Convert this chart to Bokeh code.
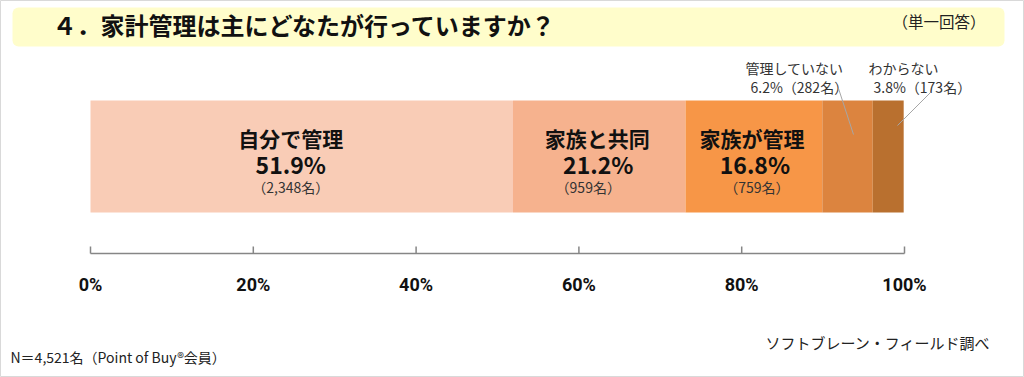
from bokeh.plotting import figure
from bokeh.models import Range1d, BoxAnnotation, ColumnDataSource
from bokeh.core.properties import value
from bokeh.embed import file_html
from bokeh.resources import INLINE

# ---- data ----
categories = ["自分で管理", "家族と共同", "家族が管理", "管理していない", "わからない"]
percents = [51.9, 21.2, 16.8, 6.2, 3.8]
counts = [2348, 959, 759, 282, 173]
colors = ["#F9CCB6", "#F6B28E", "#F79647", "#DC843F", "#B9702F"]
tick_values = [0, 20, 40, 60, 80, 100]
tick_labels = ["0%", "20%", "40%", "60%", "80%", "100%"]
title_text = "４．家計管理は主にどなたが行っていますか？"
subtitle_text = "（単一回答）"
note_text = "N＝4,521名（Point of Buy®会員）"
source_text = "ソフトブレーン・フィールド調べ"

JP = value("Noto Sans CJK JP")

# ---- layout ----
W, H = 1024, 377
PX0, PX100 = 90, 904
scale = (PX100 - PX0) / 100.0
x_start = -PX0 / scale
x_end = x_start + W / scale

p = figure(width=W, height=H, output_backend="svg", toolbar_location=None,
           x_range=Range1d(x_start, x_end), y_range=Range1d(H, 0),
           x_axis_location=None, y_axis_location=None)
p.min_border_left = 0
p.min_border_right = 0
p.min_border_top = 0
p.min_border_bottom = 0
p.outline_line_color = "#D9D9D9"
p.background_fill_color = "white"
p.border_fill_color = "white"
p.xgrid.grid_line_color = None
p.ygrid.grid_line_color = None
p.extra_x_ranges = {"px": Range1d(0, W)}

# title band
p.add_layout(BoxAnnotation(left=12, right=1004, top=7, bottom=46, x_range_name="px",
                           fill_color="#FFFDCB", fill_alpha=1.0, line_color=None,
                           border_radius=6, level="underlay"))
p.text(x=[52], y=[24], text=[title_text], x_range_name="px", text_font=JP,
       text_font_style="bold", text_font_size="24px", text_baseline="middle",
       text_align="left", text_color="#111111")
p.text(x=[892], y=[20], text=[subtitle_text], x_range_name="px", text_font=JP,
       text_font_size="15.5px", text_baseline="middle", text_align="left",
       text_color="#222222")

# stacked bar
lefts, rights = [], []
acc = 0.0
for v in percents:
    lefts.append(acc)
    acc += v
    rights.append(acc)
mids = [(a + b) / 2 for a, b in zip(lefts, rights)]
src = ColumnDataSource(dict(left=lefts, right=rights, color=colors, cat=categories))
p.hbar(y=156, left="left", right="right", height=112, fill_color="color",
       line_color=None, source=src)

# in-bar labels (first three segments)
n_in = 3
lab = ColumnDataSource(dict(
    x=mids[:n_in],
    cat=categories[:n_in],
    pct=[f"{v:.1f}%" for v in percents[:n_in]],
    cnt=[f"（{c:,}名）" for c in counts[:n_in]],
    off_cat=[-11, -2, -2],
    off_pct=[-11, -1, 1],
    off_cnt=[-11, -11, 3],
))
p.text(x="x", y=137, text="cat", x_offset="off_cat", source=lab, text_font=JP,
       text_font_style="bold", text_font_size="21px", text_align="center",
       text_baseline="middle", text_color="#111111")
p.text(x="x", y=163, text="pct", x_offset="off_pct", source=lab, text_font=JP,
       text_font_style="bold", text_font_size="23px", text_align="center",
       text_baseline="middle", text_color="#111111")
p.text(x="x", y=186, text="cnt", x_offset="off_cnt", source=lab, text_font=JP,
       text_font_size="14px", text_align="center", text_baseline="middle",
       text_color="#333333")

# callout labels for small segments
p.text(x=[745, 868], y=[67, 67], text=categories[3:], x_range_name="px",
       text_font=JP, text_font_size="14px", text_align="left",
       text_baseline="middle", text_color="#333333")
p.text(x=[750, 873], y=[86, 86],
       text=[f"{v:.1f}%（{c}名）" for v, c in zip(percents[3:], counts[3:])],
       x_range_name="px", text_font=JP, text_font_size="14px", text_align="left",
       text_baseline="middle", text_color="#333333")
p.segment(x0=[838, 930], y0=[88, 92], x1=[853, 897], y1=[134, 125],
          x_range_name="px", line_color="#A6A6A6", line_width=1)

# axis
p.segment(x0=[tick_values[0]], y0=[253], x1=[tick_values[-1]], y1=[253],
          line_color="#868686", line_width=1.5)
p.segment(x0=tick_values, y0=[246] * len(tick_values), x1=tick_values,
          y1=[253] * len(tick_values), line_color="#868686", line_width=1.5)
p.text(x=tick_values, y=[284] * len(tick_values), text=tick_labels,
       text_font=value("Roboto"), text_font_style="bold", text_font_size="18px",
       text_align="center", text_baseline="middle", text_color="#111111")

# footer notes
p.text(x=[10], y=[356], text=[note_text], x_range_name="px", text_font=JP,
       text_font_size="14px", text_align="left", text_baseline="middle",
       text_color="#222222")
p.text(x=[990], y=[342], text=[source_text], x_range_name="px", text_font=JP,
       text_font_size="15px", text_align="right", text_baseline="middle",
       text_color="#222222")

open("out.html", "w").write(file_html(p, INLINE))
